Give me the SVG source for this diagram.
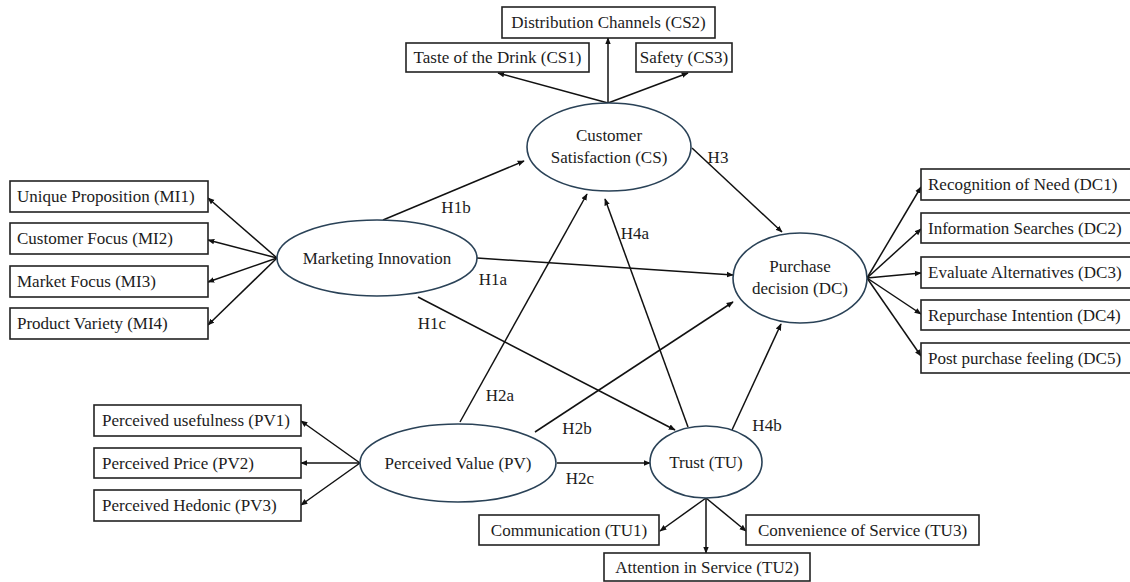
<svg xmlns="http://www.w3.org/2000/svg" width="1130" height="582" viewBox="0 0 1130 582" font-family="Liberation Serif, Times New Roman, serif" font-size="17">
<style>
text{font-family:"Liberation Serif","Times New Roman",Tinos,serif;font-size:17px;fill:#1c1c1c}
.box{fill:#fff;stroke:#222;stroke-width:1.6}
.ell{fill:#fff;stroke:#2a4257;stroke-width:1.6}
.c{stroke:#111;stroke-width:1.5;fill:none;marker-end:url(#ah)}
.m{text-anchor:middle}
</style>
<defs>
<marker id="ah" viewBox="0 0 10 10" refX="9" refY="5" markerWidth="7" markerHeight="7" orient="auto" markerUnits="userSpaceOnUse">
<path d="M0,1 L10,5 L0,9 z" fill="#111"/>
</marker>
</defs>
<rect width="1130" height="582" fill="#fff"/>
<g id="connectors">
<line class="c" x1="608" y1="103" x2="498" y2="73"/>
<line class="c" x1="608" y1="103" x2="608" y2="38"/>
<line class="c" x1="608" y1="103" x2="688" y2="73"/>
<line class="c" x1="277" y1="258" x2="208" y2="198"/>
<line class="c" x1="277" y1="258" x2="208" y2="240"/>
<line class="c" x1="277" y1="258" x2="208" y2="282"/>
<line class="c" x1="277" y1="258" x2="208" y2="325"/>
<line class="c" x1="867" y1="278" x2="921" y2="187"/>
<line class="c" x1="867" y1="278" x2="921" y2="229"/>
<line class="c" x1="867" y1="278" x2="921" y2="273"/>
<line class="c" x1="867" y1="278" x2="921" y2="314"/>
<line class="c" x1="867" y1="278" x2="921" y2="356"/>
<line class="c" x1="360" y1="463" x2="301" y2="421"/>
<line class="c" x1="360" y1="463" x2="301" y2="463"/>
<line class="c" x1="360" y1="463" x2="301" y2="505"/>
<line class="c" x1="706" y1="498" x2="660" y2="531"/>
<line class="c" x1="706" y1="498" x2="706" y2="553"/>
<line class="c" x1="706" y1="498" x2="746" y2="531"/>
<line class="c" x1="383" y1="220" x2="524" y2="161"/>
<line class="c" x1="477" y1="258" x2="733" y2="275"/>
<line class="c" x1="418" y1="297" x2="675" y2="430"/>
<line class="c" x1="692" y1="148" x2="782" y2="232"/>
<line class="c" x1="460" y1="422" x2="587" y2="194"/>
<line class="c" x1="535" y1="432" x2="733" y2="302"/>
<line class="c" x1="557" y1="463" x2="650" y2="463"/>
<line class="c" x1="688" y1="427" x2="605" y2="199"/>
<line class="c" x1="732" y1="430" x2="781" y2="324"/>
<text x="456" y="213" class="m">H1b</text>
<text x="493" y="285" class="m">H1a</text>
<text x="432" y="329" class="m">H1c</text>
<text x="718" y="163" class="m">H3</text>
<text x="500" y="401" class="m">H2a</text>
<text x="577" y="434" class="m">H2b</text>
<text x="580" y="484" class="m">H2c</text>
<text x="635" y="239" class="m">H4a</text>
<text x="767" y="431" class="m">H4b</text>
</g>
<g id="cs">
<ellipse class="ell" cx="609" cy="147" rx="82" ry="44"/>
<text x="609" y="141" class="m">Customer</text>
<text x="609" y="163" class="m">Satisfaction (CS)</text>
</g>
<g id="cs1"><rect class="box" x="406" y="43" width="183" height="29"/><text x="497.5" y="63" class="m">Taste of the Drink (CS1)</text></g>
<g id="cs2"><rect class="box" x="502" y="7" width="213" height="31"/><text x="608.5" y="28" class="m">Distribution Channels (CS2)</text></g>
<g id="cs3"><rect class="box" x="636" y="43" width="96" height="29"/><text x="684" y="63" class="m">Safety (CS3)</text></g>
<g id="mi">
<ellipse class="ell" cx="377" cy="258" rx="100" ry="38"/>
<text x="377" y="264" class="m">Marketing Innovation</text>
</g>
<g id="mi1"><rect class="box" x="10" y="181" width="198" height="31"/><text x="17" y="202">Unique Proposition (MI1)</text></g>
<g id="mi2"><rect class="box" x="10" y="223" width="198" height="31"/><text x="17" y="244">Customer Focus (MI2)</text></g>
<g id="mi3"><rect class="box" x="10" y="266" width="198" height="31"/><text x="17" y="287">Market Focus (MI3)</text></g>
<g id="mi4"><rect class="box" x="10" y="308" width="198" height="31"/><text x="17" y="329">Product Variety (MI4)</text></g>
<g id="dc">
<ellipse class="ell" cx="800" cy="278" rx="67" ry="45"/>
<text x="800" y="272" class="m">Purchase</text>
<text x="800" y="294" class="m">decision (DC)</text>
</g>
<g id="dc1"><rect class="box" x="921" y="169" width="215" height="31"/><text x="928" y="190">Recognition of Need (DC1)</text></g>
<g id="dc2"><rect class="box" x="921" y="213" width="215" height="30"/><text x="928" y="234">Information Searches (DC2)</text></g>
<g id="dc3"><rect class="box" x="921" y="257" width="215" height="31"/><text x="928" y="278">Evaluate Alternatives (DC3)</text></g>
<g id="dc4"><rect class="box" x="921" y="300" width="215" height="30"/><text x="928" y="321">Repurchase Intention (DC4)</text></g>
<g id="dc5"><rect class="box" x="921" y="343" width="215" height="30"/><text x="928" y="364">Post purchase feeling (DC5)</text></g>
<g id="pv">
<ellipse class="ell" cx="458" cy="463" rx="98" ry="39"/>
<text x="458" y="469" class="m">Perceived Value (PV)</text>
</g>
<g id="pv1"><rect class="box" x="94" y="405" width="207" height="31"/><text x="102" y="426">Perceived usefulness (PV1)</text></g>
<g id="pv2"><rect class="box" x="94" y="448" width="207" height="30"/><text x="102" y="469">Perceived Price (PV2)</text></g>
<g id="pv3"><rect class="box" x="94" y="490" width="207" height="31"/><text x="102" y="511">Perceived Hedonic (PV3)</text></g>
<g id="tu">
<ellipse class="ell" cx="706" cy="462" rx="56" ry="36"/>
<text x="706" y="468" class="m">Trust (TU)</text>
</g>
<g id="tu1"><rect class="box" x="479" y="515" width="180" height="30"/><text x="569" y="536" class="m">Communication (TU1)</text></g>
<g id="tu2"><rect class="box" x="604" y="553" width="206" height="28"/><text x="707" y="573" class="m">Attention in Service (TU2)</text></g>
<g id="tu3"><rect class="box" x="746" y="515" width="233" height="30"/><text x="862.5" y="536" class="m">Convenience of Service (TU3)</text></g>
</svg>
